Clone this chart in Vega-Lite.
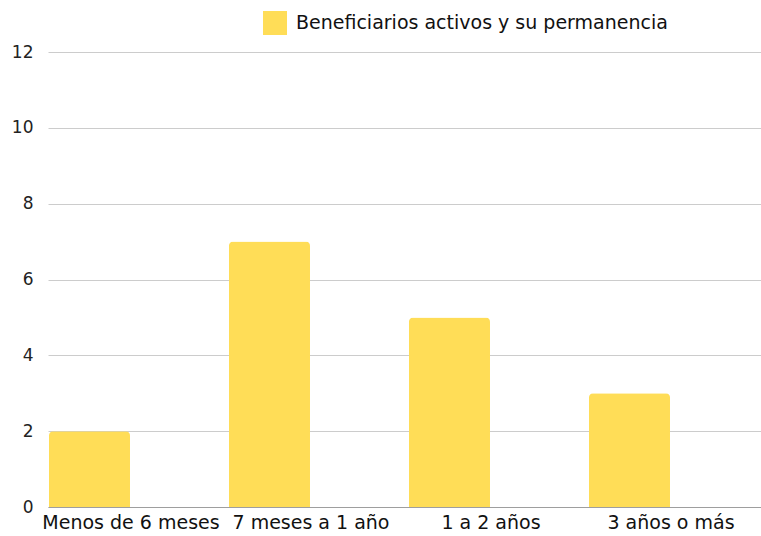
{
  "$schema": "https://vega.github.io/schema/vega-lite/v6.json",
  "autosize": "none",
  "width": 720,
  "height": 455,
  "padding": {"left": 48, "top": 52, "right": 0, "bottom": 29},
  "background": "#ffffff",
  "config": {
    "view": {"stroke": null},
    "font": "DejaVu Sans"
  },
  "data": {
    "values": [
      {"categoria": "Menos de 6 meses", "serie": "Beneficiarios activos y su permanencia", "valor": 2},
      {"categoria": "7 meses a 1 año", "serie": "Beneficiarios activos y su permanencia", "valor": 7},
      {"categoria": "1 a 2 años", "serie": "Beneficiarios activos y su permanencia", "valor": 5},
      {"categoria": "3 años o más", "serie": "Beneficiarios activos y su permanencia", "valor": 3}
    ]
  },
  "mark": {"type": "bar", "cornerRadiusTopLeft": 4, "cornerRadiusTopRight": 4},
  "encoding": {
    "x": {
      "field": "categoria",
      "type": "nominal",
      "sort": null,
      "scale": {"paddingInner": 0, "paddingOuter": 0},
      "axis": {
        "title": null,
        "labelAngle": 0,
        "labelFontSize": 19,
        "labelColor": "#111111",
        "labelPadding": 6,
        "labelOffset": -7,
        "ticks": false,
        "domainColor": "#9e9e9e",
        "grid": false
      }
    },
    "xOffset": {
      "field": "serie",
      "type": "nominal",
      "scale": {"domain": ["Beneficiarios activos y su permanencia", "_"], "paddingInner": 0.165, "paddingOuter": 0.0103}
    },
    "y": {
      "field": "valor",
      "type": "quantitative",
      "scale": {"domain": [0, 12]},
      "axis": {
        "title": null,
        "values": [0, 2, 4, 6, 8, 10, 12],
        "labelFontSize": 17,
        "labelColor": "#222222",
        "labelPadding": 15,
        "ticks": false,
        "domain": false,
        "gridColor": "#cccccc"
      }
    },
    "color": {
      "field": "serie",
      "type": "nominal",
      "scale": {"range": ["#FFDD57"]},
      "legend": {
        "title": null,
        "orient": "none",
        "legendX": 215,
        "legendY": -41,
        "symbolType": "square",
        "symbolSize": 576,
        "symbolStrokeWidth": 0,
        "labelFontSize": 19,
        "labelColor": "#111111",
        "labelOffset": 9,
        "labelLimit": 500
      }
    }
  }
}
